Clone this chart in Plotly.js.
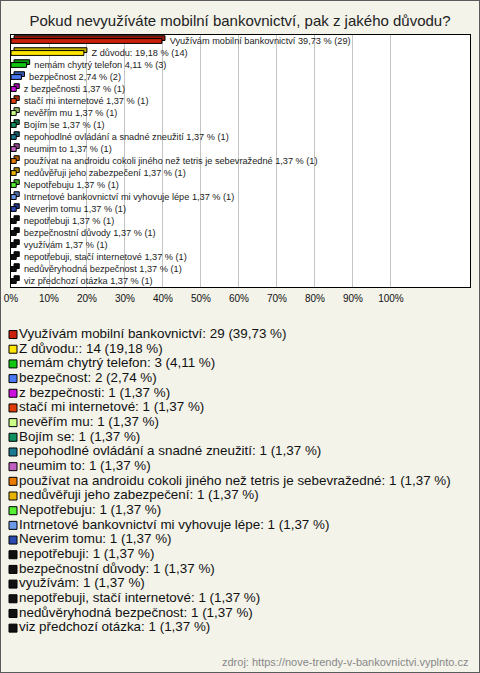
<!DOCTYPE html>
<html>
<head>
<meta charset="utf-8">
<script src="https://cdn.plot.ly/plotly-3.0.1.min.js"></script>
<style>
  body { margin: 0; background: #f3f3ea; }
  #graph { width: 478px; height: 671px; border: 1px solid #5a5a5a; }
</style>
</head>
<body>
<div id="graph"></div>
<script>
const categories = [
    "Využívám mobilní bankovnictví",
    "Z důvodu:",
    "nemám chytrý telefon",
    "bezpečnost",
    "z bezpečnosti",
    "stačí mi internetové",
    "nevěřím mu",
    "Bojím se",
    "nepohodlné ovládání a snadné zneužití",
    "neumim to",
    "používat na androidu cokoli jiného než tetris je sebevražedné",
    "nedůvěřuji jeho zabezpečení",
    "Nepotřebuju",
    "Intrnetové bankovnictví mi vyhovuje lépe",
    "Neverim tomu",
    "nepotřebuji",
    "bezpečnostní důvody",
    "využívám",
    "nepotřebuji, stačí internetové",
    "nedůvěryhodná bezpečnost",
    "viz předchozí otázka"
];
const counts = [29, 14, 3, 2, 1, 1, 1, 1, 1, 1, 1, 1, 1, 1, 1, 1, 1, 1, 1, 1, 1];
const percents = [39.73, 19.18, 4.11, 2.74, 1.37, 1.37, 1.37, 1.37, 1.37, 1.37, 1.37,
                  1.37, 1.37, 1.37, 1.37, 1.37, 1.37, 1.37, 1.37, 1.37, 1.37];
const colors = [
    "#c8200a", "#ffe600", "#11c611", "#4a78f0", "#cc11dd", "#e03c0a", "#ccff88",
    "#109060", "#1a7a90", "#c060c0", "#e87a00", "#e8b400", "#55ee33", "#6a9ae8",
    "#2a4ab0", "#111111", "#111111", "#111111", "#111111", "#111111", "#111111"
];
const tickValues = [0, 10, 20, 30, 40, 50, 60, 70, 80, 90, 100];
const tickLabels = ["0%", "10%", "20%", "30%", "40%", "50%", "60%", "70%", "80%", "90%", "100%"];
const sourceText = "zdroj: https://nove-trendy-v-bankovnictvi.vyplnto.cz";

const FONT = "Arial, 'Liberation Sans', sans-serif";
const BG = "#f3f3ea";

function czNum(v){
    return v.toFixed(2).replace(".", ",");
}
// darker tone for the fake 3d depth
function shade(hex, k){
    let n = parseInt(hex.slice(1), 16);
    let r = Math.round(((n >> 16) & 255) * k);
    let g = Math.round(((n >> 8) & 255) * k);
    let b = Math.round((n & 255) * k);
    return "rgb(" + r + "," + g + "," + b + ")";
}

const barLabels = categories.map((c, i) => "\u00a0\u00a0\u00a0" + c + " " + czNum(percents[i]) + " % (" + counts[i] + ")");
const legendLabels = categories.map((c, i) => c + ": " + counts[i] + " (" + czNum(percents[i]) + " %)");

const depth = 0.8;

const back = {
    type: "bar",
    orientation: "h",
    y: categories,
    x: percents,
    base: depth,
    width: 0.4,
    offset: -0.44,
    marker: { color: colors.map(c => shade(c, 0.75)), line: { color: "#000", width: 1 } },
    hoverinfo: "skip",
    showlegend: false,
    xaxis: "x", yaxis: "y"
};

const front = {
    type: "bar",
    orientation: "h",
    y: categories,
    x: percents,
    width: 0.4,
    offset: -0.2,
    marker: { color: colors, line: { color: "#000", width: 1 } },
    text: barLabels,
    textposition: "outside",
    constraintext: "none",
    cliponaxis: false,
    textfont: { family: FONT, size: 9.2, color: "#222" },
    hoverinfo: "skip",
    showlegend: false,
    xaxis: "x", yaxis: "y"
};

// legend drawn as its own little subplot
const legendTrace = {
    type: "scatter",
    mode: "markers+text",
    x: categories.map(() => 0),
    y: categories,
    marker: { symbol: "square", size: 8, color: colors, line: { color: "#000", width: 1 } },
    text: legendLabels,
    textposition: "middle right",
    textfont: { family: FONT, size: 13.4, color: "#111" },
    cliponaxis: false,
    hoverinfo: "skip",
    showlegend: false,
    xaxis: "x2", yaxis: "y2"
};

const layout = {
    width: 478,
    height: 671,
    margin: { l: 10, r: 9, t: 34, b: 22 },
    paper_bgcolor: BG,
    plot_bgcolor: BG,
    font: { family: FONT, color: "#111" },
    barmode: "overlay",
    title: {
        text: "Pokud nevyužíváte mobilní bankovnictví, pak z jakého důvodu?",
        font: { family: FONT, size: 15, color: "#222" },
        x: 0.5, xanchor: "center",
        yref: "container", y: 0.971, yanchor: "middle"
    },
    xaxis: {
        range: [0, 120.8],
        tickvals: tickValues,
        ticktext: tickLabels,
        tickfont: { family: FONT, size: 10, color: "#111" },
        ticks: "",
        ticklabelstandoff: 2,
        showgrid: true,
        gridcolor: "#c4c4c4",
        gridwidth: 1,
        zeroline: false,
        showline: true,
        mirror: true,
        linecolor: "#000",
        linewidth: 1,
        fixedrange: true
    },
    yaxis: {
        domain: [0.5902, 1],
        type: "category",
        categoryorder: "array",
        categoryarray: categories,
        autorange: "reversed",
        showticklabels: false,
        ticks: "",
        showgrid: false,
        zeroline: false,
        showline: true,
        mirror: true,
        linecolor: "#000",
        linewidth: 1,
        fixedrange: true
    },
    xaxis2: {
        anchor: "y2",
        range: [-2, 457],
        visible: false,
        fixedrange: true
    },
    yaxis2: {
        anchor: "x2",
        domain: [0, 0.5485],
        type: "category",
        categoryorder: "array",
        categoryarray: categories,
        autorange: "reversed",
        visible: false,
        fixedrange: true
    },
    shapes: [{
        // white background only behind the bar chart
        type: "rect",
        xref: "x domain", yref: "y domain",
        x0: 0, x1: 1, y0: 0, y1: 1,
        fillcolor: "#ffffff",
        line: { width: 0 },
        layer: "below"
    }],
    annotations: [{
        text: sourceText,
        xref: "paper", yref: "paper",
        x: 1, xanchor: "right",
        y: -0.0195, yanchor: "middle",
        showarrow: false,
        font: { family: FONT, size: 11, color: "#888" }
    }]
};

Plotly.newPlot("graph", [back, front, legendTrace], layout, { staticPlot: true, displayModeBar: false });
</script>
</body>
</html>
